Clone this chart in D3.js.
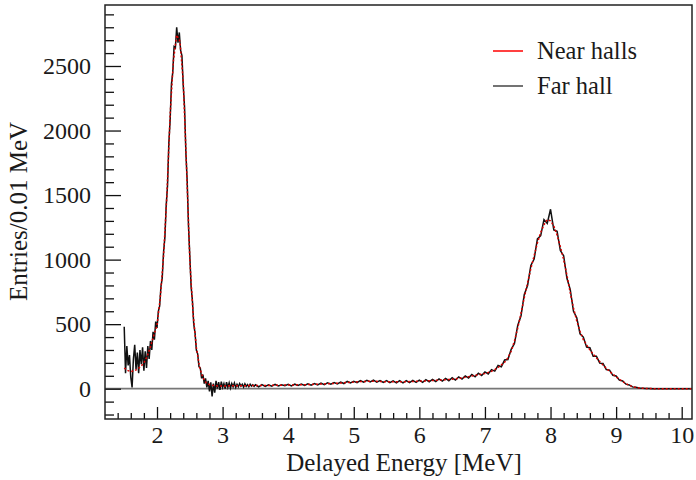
<!DOCTYPE html>
<html>
<head>
<meta charset="utf-8">
<script src="https://cdn.jsdelivr.net/npm/d3@7"></script>
<style>
  html, body { margin: 0; padding: 0; background: #fff; }
  svg text { font-family: "Liberation Serif", "DejaVu Serif", serif; fill: #1a1a1a; }
</style>
</head>
<body>
<div id="chart-container"></div>
<script>
// Near halls: 0.05 MeV steps starting at 1.50 MeV
const nearStart = 1.5;
const nearStep = 0.05;
const nearCounts = [
  160, 142, 132, 138, 150, 171, 200, 250, 325, 412,
  490, 705, 1030, 1490, 2120, 2540, 2740, 2690, 2380, 1720,
  1000, 580, 320, 165, 85, 45, 32, 26, 22, 21,
  21, 21, 22, 22, 22, 23, 23, 23, 24, 24,
  24, 24, 25, 25, 25, 26, 26, 27, 27, 28,
  28, 29, 29, 30, 30, 31, 32, 33, 34, 35,
  36, 37, 38, 40, 41, 43, 44, 46, 48, 50,
  51, 53, 55, 56, 57, 58, 58, 57, 56, 55,
  54, 54, 53, 53, 53, 54, 54, 55, 56, 57,
  58, 59, 60, 62, 63, 65, 66, 68, 70, 72,
  74, 77, 80, 84, 88, 93, 98, 103, 108, 113,
  118, 126, 135, 148, 165, 185, 205, 240, 290, 370,
  470, 585, 705, 820, 930, 1030, 1130, 1210, 1270, 1310,
  1300, 1260, 1190, 1100, 1000, 880, 745, 625, 525, 445,
  380, 340, 300, 268, 238, 210, 184, 158, 134, 112,
  92, 72, 55, 39, 26, 16, 10, 6, 3, 2,
  1, 1, 0, 0, 0, 0, 0, 0, 0, 0,
  0, 0, 0, 0
];

// Far hall, low part: 0.02 MeV steps from 1.50 to 3.48 MeV
const farLowStart = 1.5;
const farLowStep = 0.02;
const farLowCounts = [
  480, 120, 330, 180, 260, 90, 10, 230, 340, 150,
  280, 120, 300, 190, 320, 140, 290, 160, 330, 230,
  370, 300, 440, 380, 520, 470, 600, 640, 790, 860,
  1060, 1170, 1420, 1570, 1900, 2080, 2360, 2450, 2650, 2640,
  2800, 2680, 2760, 2620, 2580, 2350, 2180, 1830, 1610, 1260,
  1030, 790, 680, 500, 430, 300, 270, 170, 160, 80,
  110, 40, 80, 10, 60, -20, 50, -60, 40, -30,
  60, 0, 50, -10, 55, 10, 40, 0, 50, 10,
  45, 5, 40, 15, 45, 10, 35, 15, 40, 20,
  35, 12, 38, 18, 32, 15, 35, 20, 30, 18
];

// Far hall, high part: 0.05 MeV steps from 3.50 to 10.15 MeV
const farHighStart = 3.5;
const farHighStep = 0.05;
const farHighCounts = [
  30, 15, 32, 18, 30, 20, 33, 22, 31, 24,
  34, 22, 35, 25, 36, 26, 38, 28, 40, 30,
  43, 32, 45, 35, 48, 37, 52, 40, 56, 44,
  58, 47, 63, 50, 65, 52, 66, 50, 63, 48,
  62, 47, 61, 45, 62, 46, 63, 47, 65, 49,
  67, 50, 70, 53, 72, 56, 76, 59, 80, 62,
  85, 67, 91, 74, 99, 82, 110, 92, 120, 102,
  130, 114, 148, 136, 180, 170, 222, 226, 305, 350,
  490, 565, 730, 800, 955, 1005, 1160, 1185, 1310, 1280,
  1390, 1230, 1220, 1070, 1030, 855, 770, 600, 550, 425,
  400, 322, 318, 252, 252, 198, 196, 148, 144, 104,
  99, 66, 60, 35, 29, 14, 11, 5, 4, 2,
  1, 0, 0, 0, 0, 0, 0, 0, 0, 0,
  0, 0, 0, 0
];

const xTicks = [2, 3, 4, 5, 6, 7, 8, 9, 10];
const yTicks = [0, 500, 1000, 1500, 2000, 2500];
const legendLabels = ['Near halls', 'Far hall'];

const w = 696;
const h = 480;
const frameLeft = 105, frameRight = 692, frameTop = 5, frameBottom = 419;

const svg = d3.select('#chart-container')
  .append('svg')
  .attr('width', w)
  .attr('height', h);

const xScale = d3.scaleLinear().domain([1.207, 10.157]).range([frameLeft, frameRight]);
const yScale = d3.scaleLinear().domain([-234.7, 2972.5]).range([frameBottom, frameTop]);

const toPoints = (start, step, counts) => counts.map((c, i) => [start + i * step, c]);
const nearData = toPoints(nearStart, nearStep, nearCounts);
const farData = toPoints(farLowStart, farLowStep, farLowCounts)
  .concat(toPoints(farHighStart, farHighStep, farHighCounts));

svg.append('clipPath').attr('id', 'clip')
  .append('rect')
  .attr('x', frameLeft).attr('y', frameTop)
  .attr('width', frameRight - frameLeft).attr('height', frameBottom - frameTop);

// zero line
svg.append('line')
  .attr('x1', frameLeft).attr('x2', frameRight)
  .attr('y1', yScale(0)).attr('y2', yScale(0))
  .attr('stroke', '#777')
  .attr('stroke-width', 1.7);

const line = d3.line().x(d => xScale(d[0])).y(d => yScale(d[1]));

const plot = svg.append('g').attr('clip-path', 'url(#clip)');

plot.append('path')
  .datum(farData)
  .attr('d', line)
  .attr('fill', 'none')
  .attr('stroke', '#111')
  .attr('stroke-width', 1.5);

plot.append('path')
  .datum(nearData)
  .attr('d', line)
  .attr('fill', 'none')
  .attr('stroke', '#d00')
  .attr('stroke-width', 1.5)
  .attr('stroke-dasharray', '2,2');

// X axis (ticks inside the frame)
const xMinor = d3.range(1.4, 10.15, 0.2).filter(v => Math.abs(v - Math.round(v)) > 0.01);
svg.append('g')
  .attr('transform', `translate(0,${frameBottom})`)
  .call(d3.axisBottom(xScale).tickValues(xMinor).tickSize(-6).tickFormat(''))
  .call(g => g.select('.domain').remove());
svg.append('g')
  .attr('id', 'x-axis')
  .attr('transform', `translate(0,${frameBottom})`)
  .call(d3.axisBottom(xScale).tickValues(xTicks).tickSize(-12).tickPadding(7).tickFormat(d3.format('d')))
  .call(g => g.select('.domain').remove())
  .call(g => g.selectAll('text').attr('font-size', '24px'));

// Y axis
const yMinor = d3.range(-200, 2950, 100).filter(v => v % 500 !== 0);
svg.append('g')
  .attr('transform', `translate(${frameLeft},0)`)
  .call(d3.axisLeft(yScale).tickValues(yMinor).tickSize(-9).tickFormat(''))
  .call(g => g.select('.domain').remove());
svg.append('g')
  .attr('id', 'y-axis')
  .attr('transform', `translate(${frameLeft},0)`)
  .call(d3.axisLeft(yScale).tickValues(yTicks).tickSize(-16).tickPadding(14).tickFormat(d3.format('d')))
  .call(g => g.select('.domain').remove())
  .call(g => g.selectAll('text').attr('font-size', '24px'));

svg.selectAll('.tick line').attr('stroke', '#111').attr('stroke-width', 1.3);

// Frame
svg.append('rect')
  .attr('x', frameLeft).attr('y', frameTop)
  .attr('width', frameRight - frameLeft).attr('height', frameBottom - frameTop)
  .attr('fill', 'none')
  .attr('stroke', '#222')
  .attr('stroke-width', 1.5);

// Axis titles
svg.append('text')
  .attr('x', 404)
  .attr('y', 471)
  .attr('text-anchor', 'middle')
  .attr('font-size', '25px')
  .text('Delayed Energy [MeV]');

svg.append('text')
  .attr('transform', 'translate(27,301) rotate(-90)')
  .attr('text-anchor', 'start')
  .attr('font-size', '25px')
  .text('Entries/0.01 MeV');

// Legend
const legendColors = ['#f00', '#444'];
const legend = svg.append('g');
legendLabels.forEach((label, i) => {
  const y = 51 + i * 35;
  legend.append('line')
    .attr('x1', 493).attr('x2', 523)
    .attr('y1', y).attr('y2', y)
    .attr('stroke', legendColors[i])
    .attr('stroke-width', 1.5);
  legend.append('text')
    .attr('x', 537)
    .attr('y', y + 8)
    .attr('font-size', '24.5px')
    .text(label);
});
</script>
</body>
</html>
